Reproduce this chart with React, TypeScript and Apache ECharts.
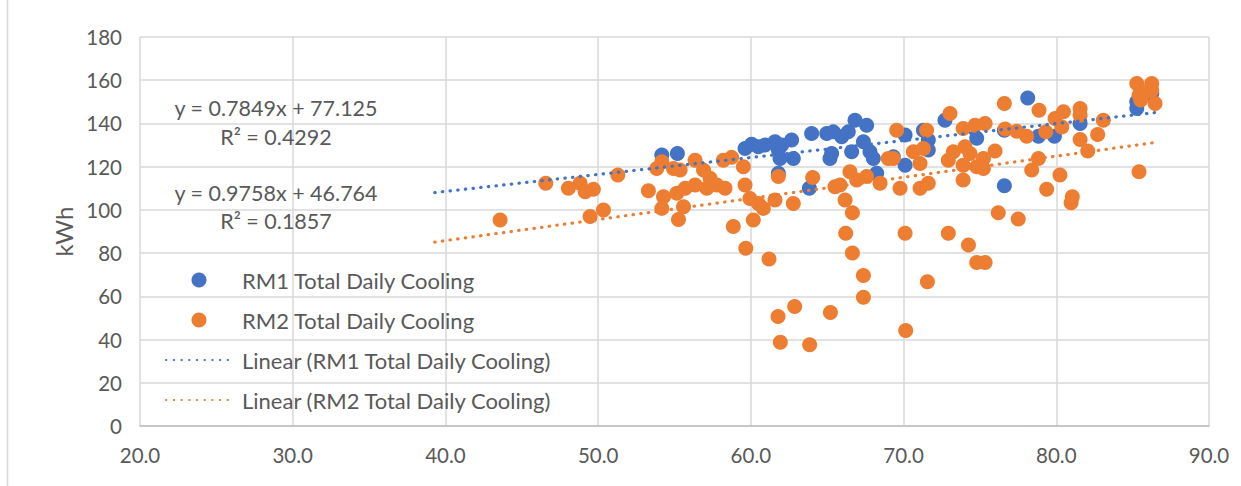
import React, { useEffect, useRef } from "react";
import * as echarts from "echarts";

const seriesNames = [
  "RM1 Total Daily Cooling",
  "RM2 Total Daily Cooling",
  "Linear (RM1 Total Daily Cooling)",
  "Linear (RM2 Total Daily Cooling)",
];

const rm1Temp = [
  54.17, 55.19, 59.62, 60.05, 60.49, 60.93, 61.58, 62.02, 62.67, 62.78, 61.91, 61.8,
  63.98, 64.97, 65.4, 65.95, 66.38, 66.82, 67.58, 66.6, 65.18, 65.29, 67.37, 67.8,
  68.02, 68.24, 69.33, 70.1, 70.1, 71.3, 71.62, 71.62, 72.71, 61.8, 63.83, 78.13,
  81.56, 79.88, 78.83, 76.6, 74.79, 76.6, 85.27, 86.25, 85.27,
];
const rm1Cooling = [
  125.4, 126.1, 128.4, 130.4, 129.2, 130.0, 131.5, 130.0, 132.3, 123.8, 123.8, 127.7,
  135.4, 135.4, 136.1, 133.8, 136.1, 141.5, 139.2, 126.9, 123.8, 126.1, 131.5, 126.9,
  123.8, 116.9, 124.6, 120.7, 134.6, 136.9, 132.3, 127.7, 141.5, 116.9, 110.0, 151.8,
  140.0, 134.1, 134.1, 136.9, 133.1, 111.2, 150.0, 153.8, 146.9,
];

const rm2Temp = [
  43.58, 46.57, 48.05, 48.82, 49.15, 49.69, 51.29, 49.47, 50.35, 53.29, 53.84, 54.17,
  54.93, 55.37, 56.35, 56.9, 57.33, 57.11, 56.35, 55.7, 55.15, 54.28, 54.17, 55.59,
  55.26, 57.77, 58.2, 58.74, 59.51, 58.31, 59.62, 59.94, 60.49, 60.82, 61.58, 62.78,
  61.8, 64.05, 65.51, 65.84, 66.49, 66.93, 67.58, 68.46, 66.17, 66.65, 69.55, 71.51,
  70.64, 71.3, 71.08, 69.77, 71.08, 71.62, 73.04, 73.26, 72.93, 58.85, 60.16, 66.21,
  70.1, 72.93, 69.0, 69.33, 59.67, 61.19, 66.65, 67.37, 67.37, 71.56, 70.14, 62.87,
  61.78, 65.21, 61.93, 63.85, 74.25, 74.79, 75.34, 76.6, 78.87, 81.56, 81.56, 80.47,
  79.92, 83.08, 82.71, 81.56, 82.06, 79.31, 80.36, 78.06, 77.41, 76.65, 73.9, 74.68,
  75.34, 74.02, 74.35, 75.99, 75.23, 74.79, 75.23, 73.9, 73.9, 78.83, 78.39, 80.24,
  79.37, 81.05, 80.97, 76.2, 77.51, 85.42, 85.27, 86.25, 85.42, 85.86, 86.47, 85.53,
  86.25,
];
const rm2Cooling = [
  95.3, 112.3, 110.0, 112.3, 108.4, 109.5, 116.1, 96.9, 100.0, 108.9, 119.2, 122.3,
  119.2, 118.4, 123.0, 118.4, 114.6, 110.0, 111.5, 110.0, 107.7, 106.1, 100.7, 101.5,
  95.6, 111.5, 123.0, 124.3, 120.0, 110.0, 111.5, 105.3, 103.0, 100.7, 104.6, 103.0,
  115.4, 115.0, 110.7, 111.5, 117.7, 113.8, 115.4, 112.3, 104.6, 98.7, 136.9, 136.9,
  126.9, 128.4, 121.5, 110.0, 110.0, 112.3, 144.6, 126.9, 123.0, 92.3, 95.3, 89.2,
  89.2, 89.2, 123.8, 123.8, 82.3, 77.3, 80.0, 69.6, 59.6, 66.8, 44.2, 55.3,
  50.7, 52.5, 38.8, 37.6, 83.8, 75.6, 75.6, 149.2, 146.1, 146.9, 143.8, 145.4,
  142.3, 141.5, 134.9, 132.6, 127.2, 136.1, 138.4, 134.1, 136.4, 137.4, 137.7, 139.2,
  140.0, 129.2, 126.1, 127.2, 123.8, 120.0, 119.2, 120.7, 113.8, 123.8, 118.4, 116.1,
  109.5, 106.1, 103.3, 98.7, 95.8, 117.6, 158.5, 158.5, 153.0, 154.6, 149.2, 150.8,
  155.4,
];

const rm1TrendX = [39.3, 86.6];
const rm1TrendY = [108.0, 145.1];
const rm2TrendX = [39.3, 86.6];
const rm2TrendY = [85.1, 131.3];

const equationTexts = [
  "y = 0.7849x + 77.125",
  "R² = 0.4292",
  "y = 0.9758x + 46.764",
  "R² = 0.1857",
];

const BLUE = "#4472C4";
const ORANGE = "#ED7D31";
const TEXT = "#595959";
const FONT = "Lato, 'Open Sans', sans-serif";

const zip = (xs: number[], ys: number[]) => xs.map((x, i) => [x, ys[i]]);

export default function App() {
  const ref = useRef<HTMLDivElement>(null);
  useEffect(() => {
    if (!ref.current) return;
    const chart = echarts.init(ref.current, undefined, { renderer: "svg" });
    const dotted = { width: 3.2, type: [0.4, 7.3] as any, cap: "round" as any };
    chart.setOption({
      animation: false,
      backgroundColor: "#ffffff",
      textStyle: { fontFamily: FONT },
      grid: { left: 140, right: 32, top: 37, bottom: 60 },
      xAxis: {
        type: "value",
        min: 20,
        max: 90,
        interval: 10,
        axisLine: { show: true, lineStyle: { color: "#BFBFBF", width: 1.5 } },
        axisTick: { show: false },
        axisLabel: {
          color: TEXT,
          fontSize: 20.5,
          fontFamily: FONT,
          margin: 18,
          formatter: (v: number) => v.toFixed(1),
        },
        splitLine: { show: true, lineStyle: { color: "#D9D9D9", width: 1.5 } },
      },
      yAxis: {
        type: "value",
        min: 0,
        max: 180,
        interval: 20,
        name: "kWh",
        nameLocation: "middle",
        nameGap: 64,
        nameTextStyle: { color: TEXT, fontSize: 24, fontFamily: FONT },
        axisLine: { show: false },
        axisTick: { show: false },
        axisLabel: { color: TEXT, fontSize: 20.5, fontFamily: FONT, margin: 18 },
        splitLine: { show: true, lineStyle: { color: "#D9D9D9", width: 1.5 } },
      },
      legend: {
        orient: "vertical",
        left: 165,
        top: 269,
        padding: 0,
        itemWidth: 66,
        itemHeight: 15,
        itemGap: 18,
        textStyle: {
          color: TEXT,
          fontSize: 22,
          fontFamily: FONT,
          lineHeight: 21,
          padding: [0, 0, 0, 5],
        },
        data: [
          { name: seriesNames[0] },
          { name: seriesNames[1] },
          { name: seriesNames[2], itemStyle: { opacity: 0 } },
          { name: seriesNames[3], itemStyle: { opacity: 0 } },
        ],
      },
      series: [
        {
          name: seriesNames[0],
          type: "scatter",
          symbol: "circle",
          symbolSize: 15,
          itemStyle: { color: BLUE, opacity: 1 },
          data: zip(rm1Temp, rm1Cooling),
          z: 2,
        },
        {
          name: seriesNames[1],
          type: "scatter",
          symbol: "circle",
          symbolSize: 15,
          itemStyle: { color: ORANGE, opacity: 1 },
          data: zip(rm2Temp, rm2Cooling),
          z: 3,
        },
        {
          name: seriesNames[2],
          type: "line",
          showSymbol: false,
          symbol: "none",
          itemStyle: { color: BLUE, opacity: 0 },
          lineStyle: { color: BLUE, opacity: 1, ...dotted },
          data: zip(rm1TrendX, rm1TrendY),
          z: 4,
        },
        {
          name: seriesNames[3],
          type: "line",
          showSymbol: false,
          symbol: "none",
          itemStyle: { color: ORANGE, opacity: 0 },
          lineStyle: { color: ORANGE, opacity: 1, ...dotted },
          data: zip(rm2TrendX, rm2TrendY),
          z: 4,
        },
      ],
      graphic: [
        {
          type: "line",
          shape: { x1: 7.5, y1: 0, x2: 7.5, y2: 486 },
          style: { stroke: "#D9D9D9", lineWidth: 1.5 },
          silent: true,
        },
        ...equationTexts.map((t, i) => ({
          type: "text",
          x: 276,
          y: [108, 137, 193, 221][i],
          silent: true,
          z: 10,
          style: {
            text: t,
            fill: TEXT,
            font: `21.5px ${FONT}`,
            textAlign: "center",
            textVerticalAlign: "middle",
          },
        })),
      ],
    });
    return () => chart.dispose();
  }, []);
  return (
    <div
      ref={ref}
      style={{ position: "fixed", left: 0, top: 0, width: 1241, height: 486 }}
    />
  );
}
